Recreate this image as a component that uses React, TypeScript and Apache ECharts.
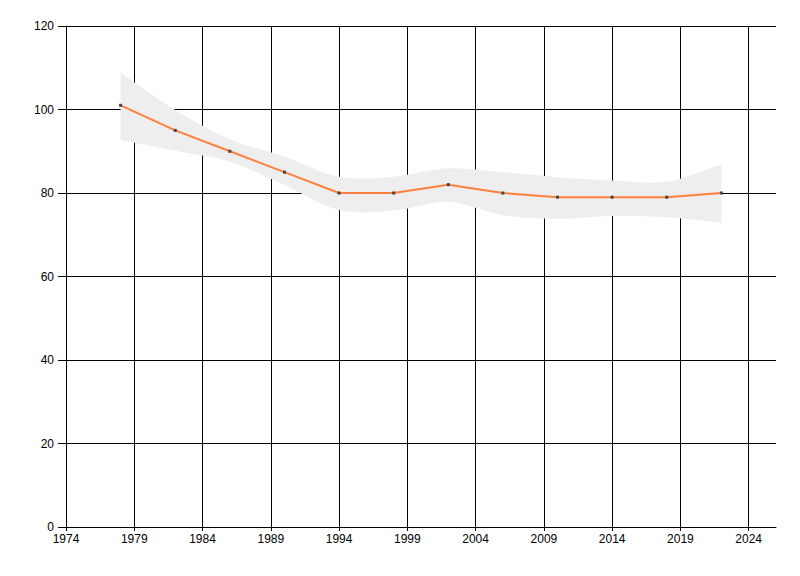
import React, { useEffect, useRef } from "react";
import * as echarts from "echarts";

const years = [1978, 1982, 1986, 1990, 1994, 1998, 2002, 2006, 2010, 2014, 2018, 2022];
const values = [101, 95, 90, 85, 80, 80, 82, 80, 79, 79, 79, 80];
const upper = [108.8, 99.9, 92.9, 88.7, 83.9, 83.9, 85.9, 85.0, 83.8, 83.0, 82.7, 86.9];
const lower = [92.7, 90.1, 87.5, 81.9, 75.9, 75.8, 77.9, 74.7, 73.8, 74.5, 74.2, 72.9];
const xTicks = [1974, 1979, 1984, 1989, 1994, 1999, 2004, 2009, 2014, 2019, 2024];
const yTicks = [0, 20, 40, 60, 80, 100, 120];

const FONT = "'Liberation Sans Narrow', 'Liberation Sans', Arial, sans-serif";

function splinePath(pts: number[][], t: number, moveFirst: boolean): string {
  let d = moveFirst ? `M${pts[0][0]},${pts[0][1]}` : `L${pts[0][0]},${pts[0][1]}`;
  for (let i = 0; i < pts.length - 1; i++) {
    const p0 = pts[Math.max(0, i - 1)];
    const p1 = pts[i];
    const p2 = pts[i + 1];
    const p3 = pts[Math.min(pts.length - 1, i + 2)];
    const c1x = p1[0] + (p2[0] - p0[0]) * t;
    const c1y = p1[1] + (p2[1] - p0[1]) * t;
    const c2x = p2[0] - (p3[0] - p1[0]) * t;
    const c2y = p2[1] - (p3[1] - p1[1]) * t;
    d += `C${c1x},${c1y},${c2x},${c2y},${p2[0]},${p2[1]}`;
  }
  return d;
}

export default function App() {
  const ref = useRef<HTMLDivElement>(null);
  useEffect(() => {
    if (!ref.current) return;
    const chart = echarts.init(ref.current, null, { renderer: "svg" });
    chart.setOption({
      animation: false,
      backgroundColor: "#ffffff",
      grid: { left: 66, right: 24, top: 26, bottom: 49, containLabel: false },
      xAxis: {
        type: "value",
        min: 1974,
        max: 2026,
        axisLine: { show: true, lineStyle: { color: "#000", width: 1 } },
        axisTick: { show: true, length: 4, customValues: xTicks, lineStyle: { color: "#000" } },
        axisLabel: {
          customValues: xTicks,
          color: "#000",
          fontSize: 12,
          fontFamily: FONT,
          margin: 6,
          formatter: (v: number) => String(v),
        },
        splitLine: { show: true, lineStyle: { color: "#000", width: 1 } },
      },
      yAxis: {
        type: "value",
        min: yTicks[0],
        max: yTicks[yTicks.length - 1],
        interval: 20,
        axisLine: { show: true, lineStyle: { color: "#000", width: 1 } },
        axisTick: { show: true, length: 8, lineStyle: { color: "#000" } },
        axisLabel: { color: "#000", fontSize: 12, fontFamily: FONT, margin: 12 },
        splitLine: { show: true, lineStyle: { color: "#000", width: 1 } },
      },
      series: [
        {
          type: "custom",
          name: "band",
          silent: true,
          z: 1,
          data: years.map((y, i) => [y, lower[i], upper[i]]),
          encode: { x: 0, y: [1, 2] },
          renderItem: (params: any, api: any) => {
            if (params.dataIndex !== 0) return null;
            const up = years.map((y, i) => api.coord([y, upper[i]]));
            const lo = years.map((y, i) => api.coord([y, lower[i]])).reverse();
            const d = splinePath(up, 1 / 6, true) + splinePath(lo, 1 / 6, false) + "Z";
            return {
              type: "path",
              shape: { pathData: d },
              style: { fill: "#eeeeee", stroke: "none" },
            };
          },
        },
        {
          type: "line",
          name: "value",
          data: years.map((y, i) => [y, values[i]]),
          symbol: "rect",
          symbolSize: 3,
          showSymbol: true,
          itemStyle: { color: "#444444" },
          lineStyle: { color: "#ff7f3f", width: 2 },
          z: 3,
        },
      ],
    });
    return () => chart.dispose();
  }, []);
  return <div ref={ref} style={{ width: 800, height: 576, position: "absolute", left: 0, top: 0 }} />;
}
